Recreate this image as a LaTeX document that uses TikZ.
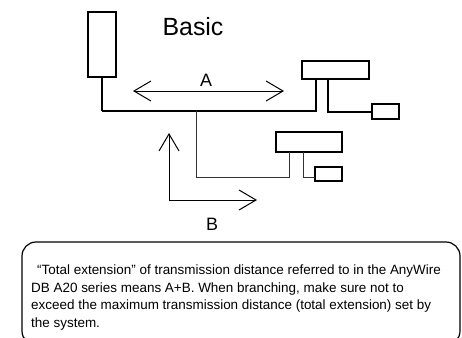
\documentclass[tikz,border=0pt]{standalone}
\usepackage{fontspec}
\setmainfont{Liberation Sans}
\usetikzlibrary{arrows.meta}

\begin{document}
\begin{tikzpicture}[x=1bp,y=-1bp,
  unit/.style={draw,line width=1.4bp,rectangle,inner sep=0pt},
  bus/.style={line width=2bp},
  lead/.style={line width=1.3bp},
  branch/.style={line width=1bp,draw=black!80},
  span/.style={line width=1bp,{Straight Barb[length=17bp,width=20bp]}-{Straight Barb[length=17bp,width=20bp]}},
  lbl/.style={inner sep=0pt,font=\fontsize{18}{18}\selectfont},
]
\useasboundingbox (0,0) rectangle (462,337);

% devices on the line
\node[unit,minimum width=28bp,minimum height=65bp] (unitL) at (102,44.5) {};
\node[unit,minimum width=67bp,minimum height=18bp] (unitR1) at (335.5,70) {};
\node[unit,minimum width=27bp,minimum height=15bp] (term1) at (385.5,111.5) {};
\node[unit,minimum width=66bp,minimum height=20bp] (unitR2) at (309,142) {};
\node[unit,minimum width=27bp,minimum height=14bp] (term2) at (328.5,174) {};

% tap points
\coordinate (k1) at (316,111);
\coordinate (k0) at (unitL.south |- k1);
\coordinate (r1a) at (316,79);
\coordinate (r1b) at (328,79);
\coordinate (j1) at (196,111);
\coordinate (k2) at (289,177);
\coordinate (r2a) at (289,152);
\coordinate (r2b) at (303,152);
\coordinate (t2in) at (315,177);

% trunk line
\draw[lead] (unitL.south) -- (k0);
\draw[bus] (k0) -- (k1) -- (r1a);
\draw[bus] (r1b) |- (term1.west);

% branch line
\draw[branch] (j1) |- (k2) -- (r2a);
\draw[branch] (r2b) |- (t2in);

% distance A
\coordinate (aL) at (133,91);
\coordinate (aR) at (284,91);
\draw[span] (aL) -- (aR);
\node[lbl] (labA) at (206,80) {A};

% distance B
\coordinate (bT) at (169,133);
\coordinate (bR) at (257,200);
\draw[span] (bT) |- (bR);
\node[lbl] (labB) at (212,224) {B};

% title
\node[inner sep=0pt,font=\fontsize{25}{25}\selectfont] (title) at (193,27) {Basic};

% note frame
\draw[line width=1.2bp,rounded corners=14bp] (22,242) rectangle (460,345);
\node[inner sep=0pt,anchor=base west,align=left,
      font=\fontsize{13.5}{17.8}\selectfont] (note) at (31,327.7)
  {\hspace*{6bp}“Total extension” of transmission distance referred to in the AnyWire\\
   DB A20 series means A+B. When branching, make sure not to\\
   exceed the maximum transmission distance (total extension) set by\\
   the system.};
\end{tikzpicture}
\end{document}
